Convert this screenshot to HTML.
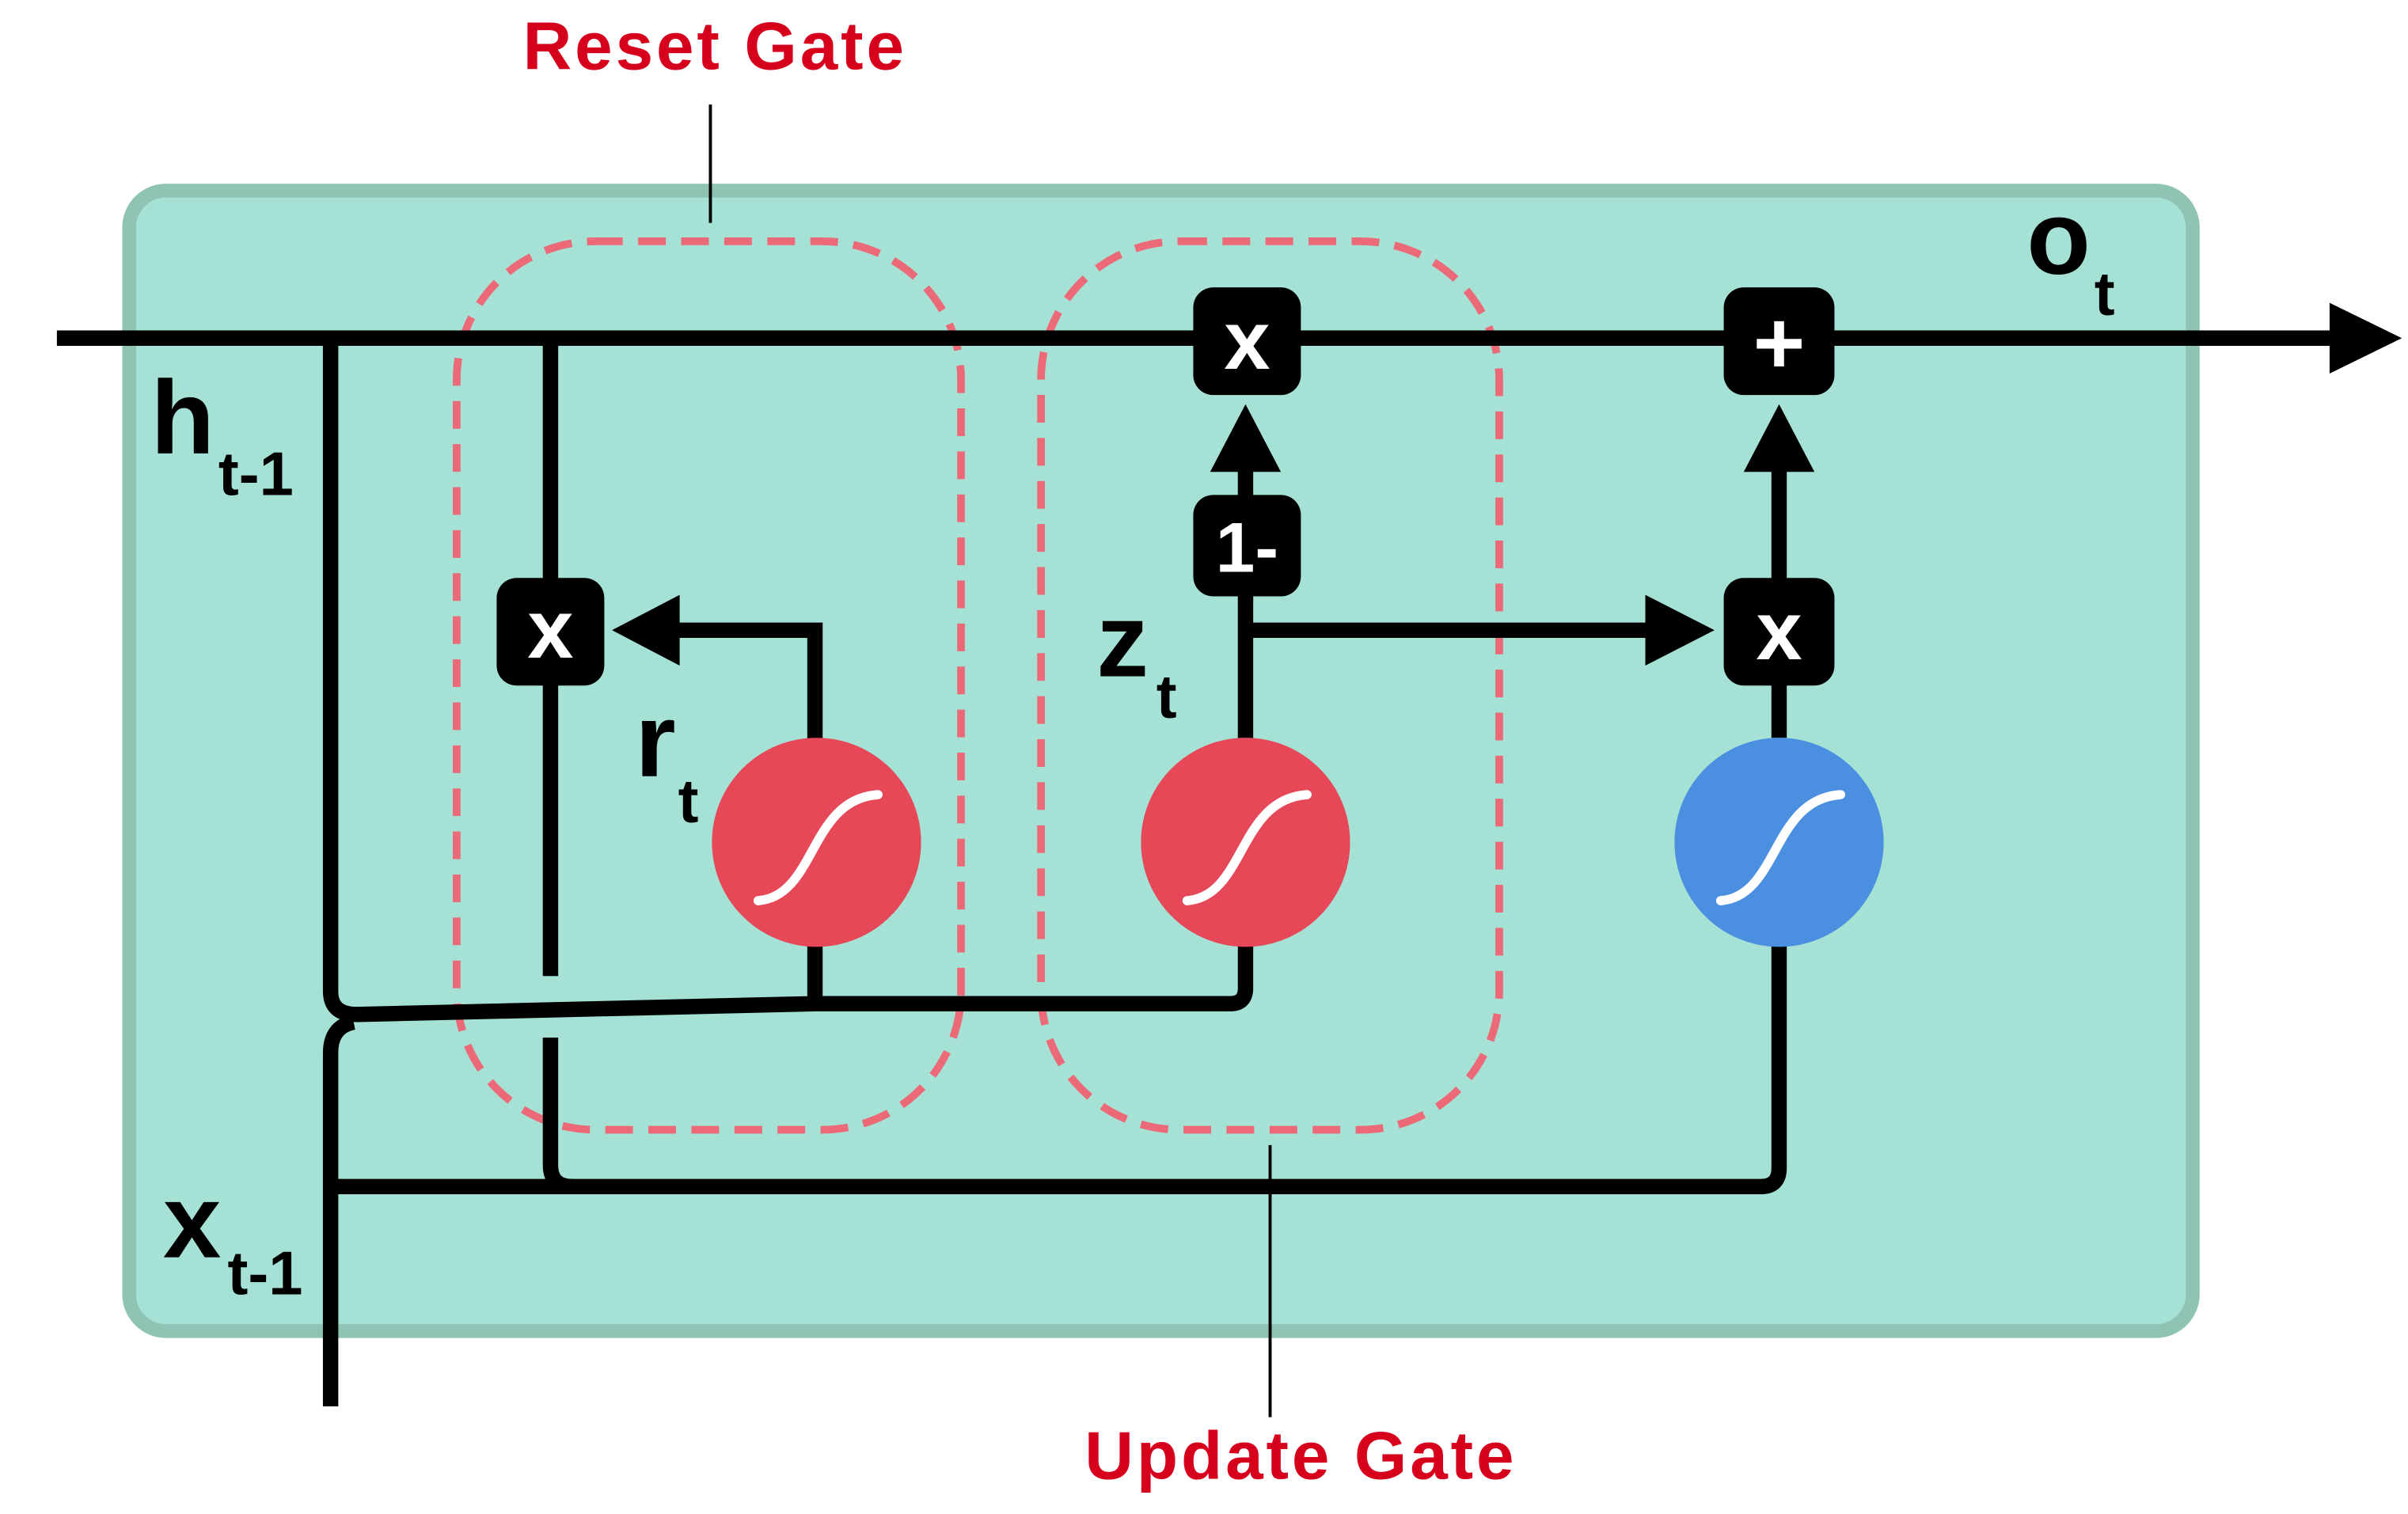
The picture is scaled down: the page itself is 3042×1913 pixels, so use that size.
<!DOCTYPE html>
<html><head><meta charset="utf-8"><style>
html,body{margin:0;padding:0;background:#fff;}
svg{display:block;}
text{font-family:"Liberation Sans",sans-serif;font-weight:bold;}
</style></head><body>
<svg width="3042" height="1913" viewBox="0 0 1566 985" preserveAspectRatio="none" xmlns="http://www.w3.org/2000/svg">
<defs>
<g id="sig"><path d="M-38,36 C0,33 -5,-30 40,-33" fill="none" stroke="#fff" stroke-width="6" stroke-linecap="round"/></g>
</defs>
<rect x="84" y="124" width="1342" height="742" rx="24" fill="#a6e1d5" stroke="#8fc4b5" stroke-width="9"/>
<rect x="297" y="157" width="328" height="578" rx="90" fill="none" stroke="#ec6a78" stroke-width="5" stroke-dasharray="18 10"/>
<rect x="677" y="157" width="298" height="578" rx="90" fill="none" stroke="#ec6a78" stroke-width="5" stroke-dasharray="18 10"/>
<line x1="462" y1="68" x2="462" y2="145" stroke="#000" stroke-width="2"/>
<line x1="826" y1="745" x2="826" y2="922" stroke="#000" stroke-width="2"/>
<g fill="none" stroke="#000" stroke-width="10">
<line x1="37" y1="220" x2="1520" y2="220"/>
<path d="M215,220 L215,645 Q215,660 232,660 L530,653 L800,653 Q810,653 810,643 L810,480"/>
<line x1="530" y1="653" x2="530" y2="490"/>
<path d="M215,915 L215,685 Q215,668 230,665"/>
<path d="M215,772 L1145,772 Q1157,772 1157,760 L1157,600"/>
<line x1="358" y1="220" x2="358" y2="635"/>
<path d="M358,675 L358,758 Q358,772 372,772"/>
<path d="M530,490 L530,410 L435,410"/>
<line x1="810" y1="480" x2="810" y2="300"/>
<path d="M810,410 L1075,410"/>
<line x1="1157" y1="480" x2="1157" y2="300"/>
</g>
<polygon points="1562,220 1515,197 1515,243" fill="#000"/>
<polygon points="398,410 442,387 442,433" fill="#000"/>
<polygon points="1115,410 1070,387 1070,433" fill="#000"/>
<polygon points="810,263 787,307 833,307" fill="#000"/>
<polygon points="1157,263 1134,307 1180,307" fill="#000"/>
<rect x="323" y="376" width="70" height="70" rx="13" fill="#000"/>
<text x="358" y="428" font-size="54" fill="#fff" text-anchor="middle">x</text>
<rect x="776" y="187" width="70" height="70" rx="13" fill="#000"/>
<text x="811" y="240" font-size="54" fill="#fff" text-anchor="middle">x</text>
<rect x="776" y="322" width="70" height="66" rx="13" fill="#000"/>
<text x="811" y="372" font-size="46" fill="#fff" text-anchor="middle">1-</text>
<rect x="1121" y="187" width="72" height="70" rx="13" fill="#000"/>
<text x="1157" y="243" font-size="58" fill="#fff" text-anchor="middle">+</text>
<rect x="1121" y="376" width="72" height="70" rx="13" fill="#000"/>
<text x="1157" y="429" font-size="54" fill="#fff" text-anchor="middle">x</text>
<circle cx="531" cy="548" r="68" fill="#e64858"/>
<use href="#sig" x="531" y="550"/>
<circle cx="810" cy="548" r="68" fill="#e64858"/>
<use href="#sig" x="810" y="550"/>
<circle cx="1157" cy="548" r="68" fill="#4a8fe0"/>
<use href="#sig" x="1157" y="550"/>
<text x="98" y="295" font-size="68" fill="#000">h</text>
<text x="142" y="322" font-size="40" fill="#000">t-1</text>
<text x="106" y="818" font-size="68" fill="#000">x</text>
<text x="148" y="842" font-size="40" fill="#000">t-1</text>
<text x="413" y="505" font-size="68" fill="#000">r</text>
<text x="441" y="535" font-size="40" fill="#000">t</text>
<text x="713" y="440" font-size="68" fill="#000">z</text>
<text x="752" y="467" font-size="40" fill="#000">t</text>
<text x="1318" y="178" font-size="68" fill="#000">o</text>
<text x="1362" y="205" font-size="40" fill="#000">t</text>
<text x="465" y="45" font-size="44" fill="#d6001c" text-anchor="middle" letter-spacing="2">Reset Gate</text>
<text x="846" y="962" font-size="44" fill="#d6001c" text-anchor="middle" letter-spacing="2">Update Gate</text>
</svg>
</body></html>
